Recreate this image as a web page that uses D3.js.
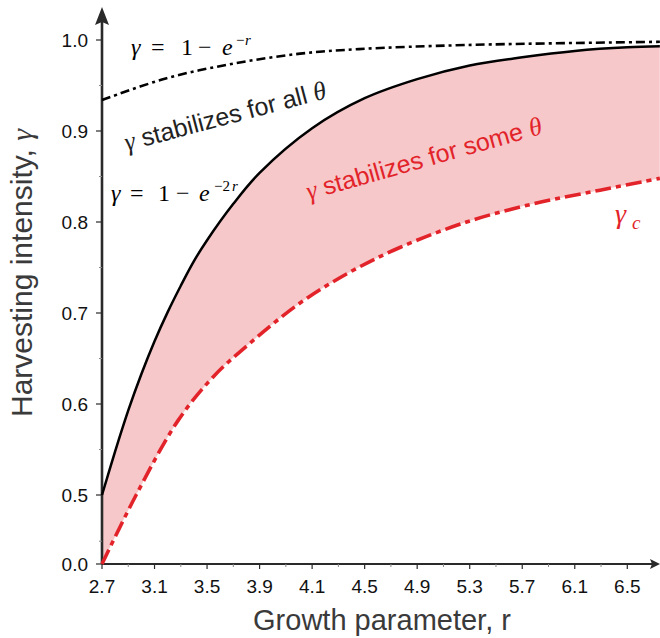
<!DOCTYPE html>
<html>
<head>
<meta charset="utf-8">
<script src="https://cdn.jsdelivr.net/npm/d3@7"></script>
<style>
  html, body { margin: 0; padding: 0; background: #fff; }
  svg { display: block; }
</style>
</head>
<body>
<svg id="chart" width="660" height="638"></svg>
<script>
// Tick labels along the growth-parameter axis (evenly spaced positions)
const xLabels = ["2.7", "3.1", "3.5", "3.9", "4.1", "4.5", "4.9", "5.3", "5.7", "6.1", "6.5"];
const xMinor = [0.5, 1.5, 2.5, 3.5, 4.5, 5.5, 6.5, 7.5, 8.5, 9.5];
// Harvesting-intensity ticks (axis is broken between 0.0 and 0.5)
const yTicks = [0.0, 0.5, 0.6, 0.7, 0.8, 0.9, 1.0];
const yMinor = [0.165, 0.55, 0.65, 0.75, 0.85, 0.95];

// Curves, x given in tick-position units
const upperX = [0, 1.23, 2.5, 3.77, 4.89, 6.94, 10.62];            // γ = 1 − e^{−r}
const upperY = [0.934, 0.958, 0.974, 0.985, 0.990, 0.9945, 0.998];
const boundX = [0, 0.25, 0.5, 0.75, 1, 1.25, 1.5, 1.75, 2, 2.5, 3, 4, 5, 6, 7, 8, 9, 10, 10.62]; // γ = 1 − e^{−2r}
const boundY = [0.5, 0.548, 0.593, 0.633, 0.669, 0.701, 0.730, 0.757, 0.780, 0.820, 0.854, 0.903, 0.936, 0.957, 0.972, 0.981, 0.988, 0.992, 0.993];
const critX = [0, 0.65, 1.45, 2.12, 2.82, 3.77, 4.72, 5.67, 6.94, 8.21, 9.48, 10.62];      // γ_c
const critY = [0, 0.5, 0.582, 0.63, 0.667, 0.711, 0.745, 0.772, 0.800, 0.820, 0.835, 0.848];

const svg = d3.select("#chart");
const x = d3.scaleLinear().domain([0, 10]).range([102, 627.3]);
const y = d3.scaleLinear().domain([0, 0.5, 1.0]).range([564, 495, 40]);

const zip = (a, b) => a.map((v, i) => [v, b[i]]);
const upper = zip(upperX, upperY);
const bound = zip(boundX, boundY);
const crit = zip(critX, critY);

const smooth = d3.curveCatmullRom.alpha(0.5);
const line = d3.line().x(d => x(d[0])).y(d => y(d[1])).curve(smooth);

// Shaded region between the γ_c curve and the 1 − e^{−2r} curve
const defs = svg.append("defs");
defs.append("clipPath").attr("id", "aboveCrit")
  .append("path")
  .attr("d", d3.area().x(d => x(d[0])).y0(0).y1(d => y(d[1])).curve(smooth)(crit));
svg.append("path")
  .attr("clip-path", "url(#aboveCrit)")
  .attr("fill", "#f6c8c9")
  .attr("d", d3.area().x(d => x(d[0])).y0(y(0)).y1(d => y(d[1])).curve(smooth)(bound));

const sans = "'Liberation Sans', Arial, sans-serif";
const serif = "'Liberation Serif', 'DejaVu Serif', serif";

// Axes
const axisColor = "#2a2a2a";
const gx = svg.append("g");
gx.append("line").attr("x1", x(0)).attr("x2", 655).attr("y1", y(0)).attr("y2", y(0))
  .attr("stroke", axisColor).attr("stroke-width", 2.2);
gx.append("path")
  .attr("d", `M660,${y(0)} L650,${y(0) - 5} L652,${y(0)} L650,${y(0) + 5} Z`)
  .attr("fill", axisColor);
gx.selectAll("line.major").data(xLabels).join("line").attr("class", "major")
  .attr("x1", (d, i) => x(i)).attr("x2", (d, i) => x(i))
  .attr("y1", y(0)).attr("y2", y(0) + 5)
  .attr("stroke", axisColor).attr("stroke-width", 1.2);
gx.selectAll("line.minor").data(xMinor).join("line").attr("class", "minor")
  .attr("x1", d => x(d)).attr("x2", d => x(d))
  .attr("y1", y(0)).attr("y2", y(0) + 3)
  .attr("stroke", "#888").attr("stroke-width", 1);
gx.selectAll("text").data(xLabels).join("text")
  .attr("x", (d, i) => x(i)).attr("y", 593)
  .attr("text-anchor", "middle")
  .attr("font-family", sans)
  .attr("font-size", 19).attr("fill", "#111")
  .text(d => d);

const gy = svg.append("g");
gy.append("line").attr("x1", x(0)).attr("x2", x(0)).attr("y1", y(0)).attr("y2", 22)
  .attr("stroke", axisColor).attr("stroke-width", 2.6);
gy.append("path")
  .attr("d", `M${x(0)},7 L${x(0) - 7},25 L${x(0)},22 L${x(0) + 7},25 Z`)
  .attr("fill", axisColor);
gy.selectAll("line.major").data(yTicks).join("line").attr("class", "major")
  .attr("x1", x(0) - 6).attr("x2", x(0))
  .attr("y1", d => y(d)).attr("y2", d => y(d))
  .attr("stroke", axisColor).attr("stroke-width", 1.2);
gy.selectAll("line.minor").data(yMinor).join("line").attr("class", "minor")
  .attr("x1", x(0) - 3).attr("x2", x(0))
  .attr("y1", d => y(d)).attr("y2", d => y(d))
  .attr("stroke", "#888").attr("stroke-width", 1);
gy.selectAll("text").data(yTicks).join("text")
  .attr("x", 88).attr("y", d => y(d) + 7)
  .attr("text-anchor", "end")
  .attr("font-family", sans)
  .attr("font-size", 19).attr("fill", "#111")
  .text(d => d3.format(".1f")(d));

// Axis titles
svg.append("text")
  .attr("x", 382).attr("y", 630)
  .attr("text-anchor", "middle")
  .attr("font-family", sans)
  .attr("font-size", 29).attr("fill", "#3a3a3a")
  .text("Growth parameter, r");
const yTitle = svg.append("text")
  .attr("transform", "translate(32,273) rotate(-90)")
  .attr("text-anchor", "middle")
  .attr("font-family", sans)
  .attr("font-size", 30).attr("fill", "#3a3a3a");
yTitle.append("tspan").text("Harvesting intensity, ");
yTitle.append("tspan").attr("font-family", serif).attr("font-style", "italic").text("γ");

// Curves
svg.append("path").attr("d", line(bound))
  .attr("fill", "none").attr("stroke", "#000").attr("stroke-width", 2.5);
svg.append("path").attr("d", line(upper))
  .attr("fill", "none").attr("stroke", "#000").attr("stroke-width", 2.6)
  .attr("stroke-dasharray", "9,4,3,4");
svg.append("path").attr("d", line(crit))
  .attr("fill", "none").attr("stroke", "#e3232a").attr("stroke-width", 3.6)
  .attr("stroke-dasharray", "16,5,5,5");

// Math-style labels built from positioned pieces
function mathLabel(x0, y0, pieces, color) {
  const g = svg.append("g").attr("transform", `translate(${x0},${y0})`);
  pieces.forEach(p => {
    g.append("text")
      .attr("x", p[0]).attr("y", p[4] || 0)
      .attr("font-family", serif)
      .attr("font-style", p[2] ? "italic" : "normal")
      .attr("font-size", p[3])
      .attr("fill", color)
      .text(p[1]);
  });
}
mathLabel(131, 55, [
  [0, "γ", true, 24], [20, "=", false, 24], [50, "1", false, 24],
  [67, "−", false, 24], [91, "e", true, 24], [105, "−", false, 15, -10], [114, "r", true, 15, -10]
], "#000");
mathLabel(111, 201, [
  [0, "γ", true, 24], [19, "=", false, 24], [47, "1", false, 24],
  [65, "−", false, 24], [88, "e", true, 24], [103, "−2", false, 15, -10], [121, "r", true, 15, -10]
], "#000");
mathLabel(615, 223, [
  [0, "γ", true, 28], [17, "c", true, 19, 6]
], "#e3232a");

// Region annotations
function regionLabel(x0, y0, angle, words, color) {
  const t = svg.append("text")
    .attr("transform", `translate(${x0},${y0}) rotate(${angle})`)
    .attr("font-family", sans)
    .attr("font-size", 25).attr("fill", color);
  t.append("tspan").attr("font-family", serif).attr("font-style", "italic").attr("font-size", 26).text("γ");
  t.append("tspan").text(" " + words + " ");
  t.append("tspan").attr("font-family", serif).attr("font-style", "italic").attr("font-size", 26).text("θ");
}
regionLabel(127, 151, -14.8, "stabilizes for all", "#222");
regionLabel(309, 200, -15.8, "stabilizes for some", "#e3232a");
</script>
</body>
</html>
